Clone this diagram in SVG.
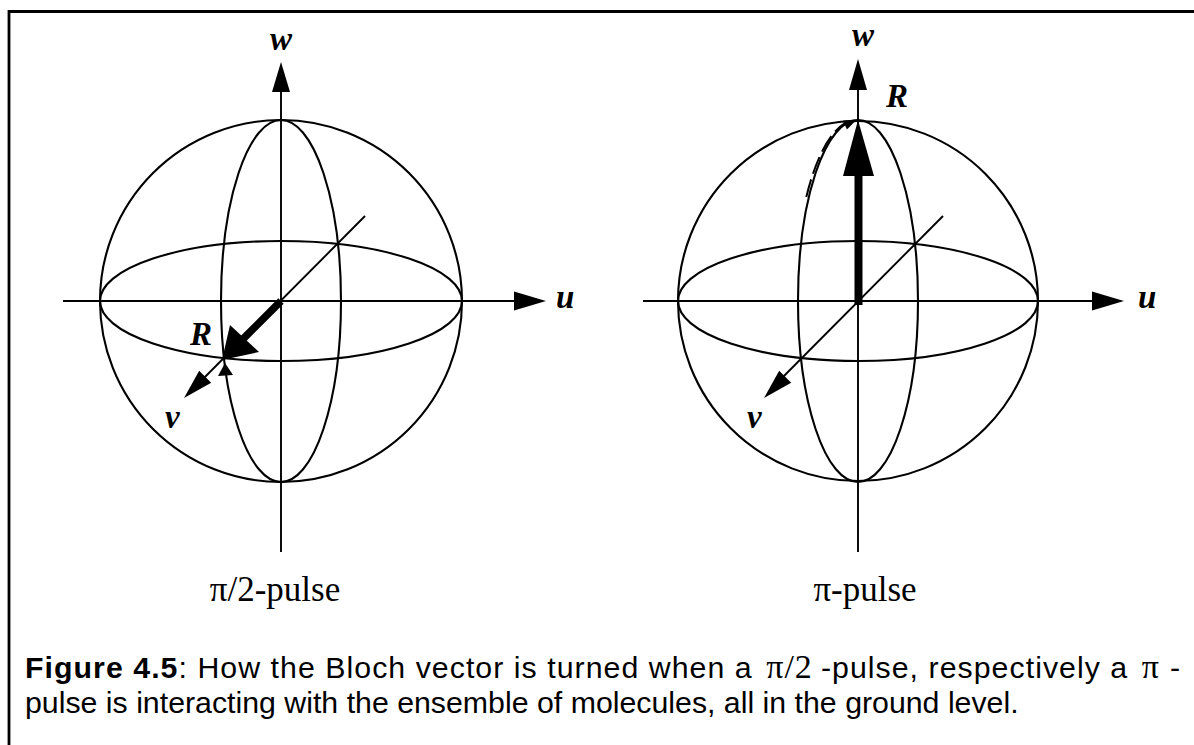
<svg xmlns="http://www.w3.org/2000/svg" width="1194" height="745" viewBox="0 0 1194 745">
<style>
.ln{fill:none;stroke:#000;stroke-width:2.1}
.ax{fill:none;stroke:#000;stroke-width:1.9}
.hd{fill:#000;stroke:none}
.lbl{font-family:"Liberation Serif",serif;font-weight:bold;font-style:italic;font-size:33px;fill:#000}
.sub{font-family:"Liberation Serif",serif;font-size:35px;fill:#000}
.cap{font-family:"Liberation Sans",Arial,sans-serif;font-size:30.3px;fill:#000}
.pi{font-family:"Liberation Serif",serif;font-size:34px}
</style>
<rect width="1194" height="745" fill="#fff"/>
<g id="frame">
<path d="M1194,11.5 H9 V745" fill="none" stroke="#000" stroke-width="2.8"/>
</g>
<g id="sphere-left">
<circle class="ln" cx="281" cy="301" r="181"/>
<ellipse class="ln" cx="281" cy="301" rx="181" ry="60"/>
<ellipse class="ln" cx="281" cy="301" rx="60" ry="181"/>
</g>
<g id="sphere-right">
<circle class="ln" cx="858" cy="301" r="180"/>
<ellipse class="ln" cx="858" cy="301" rx="180" ry="60"/>
<ellipse class="ln" cx="858" cy="301" rx="60" ry="181"/>
</g>
<g id="connectors">
<line class="ax" x1="281" y1="90" x2="281" y2="552"/>
<polygon class="hd" points="281,62 272,92 290,92"/>
<line class="ax" x1="63" y1="301" x2="516" y2="301"/>
<polygon class="hd" points="546,301 514,291.5 514,310.5"/>
<line class="ax" x1="365" y1="216" x2="199" y2="383"/>
<polygon class="hd" points="184,398 211.2,382.8 199.2,370.8"/>
<line x1="281" y1="301" x2="242" y2="340" stroke="#000" stroke-width="7.5"/>
<polygon class="hd" points="222,360 259,352 230,325"/>
<polygon class="hd" points="225,363 218,376 233,375"/>
<line class="ax" x1="858" y1="90" x2="858" y2="552"/>
<polygon class="hd" points="858,59 849,90 867,90"/>
<line class="ax" x1="643" y1="301" x2="1094" y2="301"/>
<polygon class="hd" points="1124,301 1092,291.5 1092,310.5"/>
<line class="ax" x1="943" y1="216" x2="777" y2="383"/>
<polygon class="hd" points="764,398 791.2,382.8 779.2,370.8"/>
<rect x="854.5" y="174" width="8" height="131" fill="#000"/>
<polygon class="hd" points="858,120 843,176 874,176"/>
<path d="M806.3,197 A63,182 0 0 1 845,123" fill="none" stroke="#000" stroke-width="2" stroke-dasharray="18 6"/>
<polygon class="hd" points="857,119.5 846.9,129.6 843.1,120.4"/>
</g>
<g id="labels">
<text class="lbl" x="270" y="50">w</text>
<text class="lbl" x="556" y="308">u</text>
<text class="lbl" x="190" y="345">R</text>
<text class="lbl" x="165" y="428">v</text>
<text class="lbl" x="852" y="46">w</text>
<text class="lbl" x="1138" y="308">u</text>
<text class="lbl" x="886" y="107">R</text>
<text class="lbl" x="747" y="428">v</text>
<text class="sub" x="275" y="601" text-anchor="middle">π/2-pulse</text>
<text class="sub" x="865" y="601" text-anchor="middle">π-pulse</text>
</g>
<g id="caption">
<text class="cap" x="25" y="678" textLength="1155" lengthAdjust="spacing"><tspan font-weight="bold">Figure 4.5</tspan>: How the Bloch vector is turned when a <tspan class="pi" dx="4">π/2</tspan><tspan dx="8">-pulse, respectively a </tspan><tspan class="pi" dx="4">π</tspan><tspan dx="10">-</tspan></text>
<text class="cap" x="25" y="713">pulse is interacting with the ensemble of molecules, all in the ground level.</text>
</g>
</svg>
